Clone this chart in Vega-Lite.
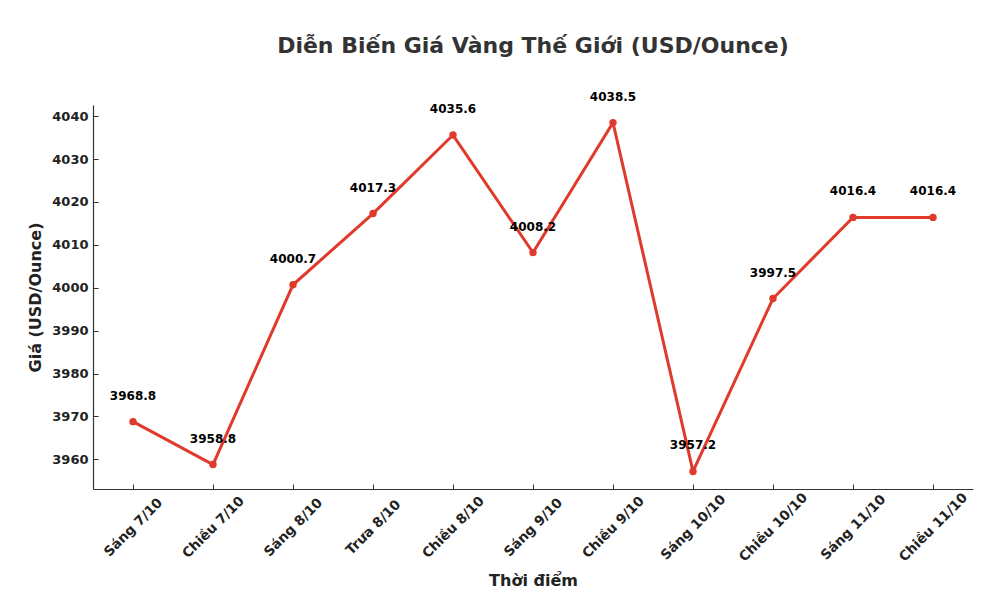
{
  "$schema": "https://vega.github.io/schema/vega-lite/v6.json",
  "width": 880,
  "height": 384,
  "autosize": {"type": "none"},
  "padding": {"left": 93, "top": 105, "right": 23, "bottom": 115},
  "background": "white",
  "title": {
    "text": "Diễn Biến Giá Vàng Thế Giới (USD/Ounce)",
    "font": "DejaVu Sans",
    "fontSize": 22,
    "fontWeight": "bold",
    "color": "#333333",
    "anchor": "middle",
    "offset": 33
  },
  "config": {
    "view": {"stroke": null},
    "axis": {
      "labelFont": "DejaVu Sans",
      "labelFontWeight": "bold",
      "labelFontSize": 13,
      "labelColor": "#222222",
      "titleFont": "DejaVu Sans",
      "titleFontWeight": "bold",
      "titleFontSize": 16,
      "titleColor": "#222222",
      "domainColor": "#333333",
      "domainWidth": 1.2,
      "tickColor": "#333333",
      "tickWidth": 1,
      "tickSize": -5,
      "grid": false
    }
  },
  "data": {
    "values": [
      {"t": "Sáng 7/10", "v": 3968.8},
      {"t": "Chiều 7/10", "v": 3958.8},
      {"t": "Sáng 8/10", "v": 4000.7},
      {"t": "Trưa 8/10", "v": 4017.3},
      {"t": "Chiều 8/10", "v": 4035.6},
      {"t": "Sáng 9/10", "v": 4008.2},
      {"t": "Chiều 9/10", "v": 4038.5},
      {"t": "Sáng 10/10", "v": 3957.2},
      {"t": "Chiều 10/10", "v": 3997.5},
      {"t": "Sáng 11/10", "v": 4016.4},
      {"t": "Chiều 11/10", "v": 4016.4}
    ]
  },
  "encoding": {
    "x": {
      "field": "t",
      "type": "ordinal",
      "sort": null,
      "scale": {"type": "point", "padding": 0.5},
      "axis": {"title": "Thời điểm", "labelFontSize": 13.5, "labelAngle": -45, "labelAlign": "center", "labelBaseline": "middle", "labelPadding": 43, "titlePadding": 9}
    },
    "y": {
      "field": "v",
      "type": "quantitative",
      "scale": {"domain": [3953.1, 4042.6], "nice": false, "zero": false},
      "axis": {"title": "Giá (USD/Ounce)", "format": "d", "values": [3960, 3970, 3980, 3990, 4000, 4010, 4020, 4030, 4040], "labelPadding": 10, "titlePadding": 8}
    }
  },
  "layer": [
    {"mark": {"type": "line", "color": "#e03a2c", "strokeWidth": 3}},
    {"mark": {"type": "point", "filled": true, "color": "#e03a2c", "size": 55, "opacity": 1}},
    {
      "mark": {"type": "text", "font": "DejaVu Sans", "fontWeight": "bold", "fontSize": 12, "color": "#000000", "dy": -26, "baseline": "middle", "align": "center"},
      "encoding": {"text": {"field": "v", "type": "quantitative", "format": ".1f"}}
    }
  ]
}
